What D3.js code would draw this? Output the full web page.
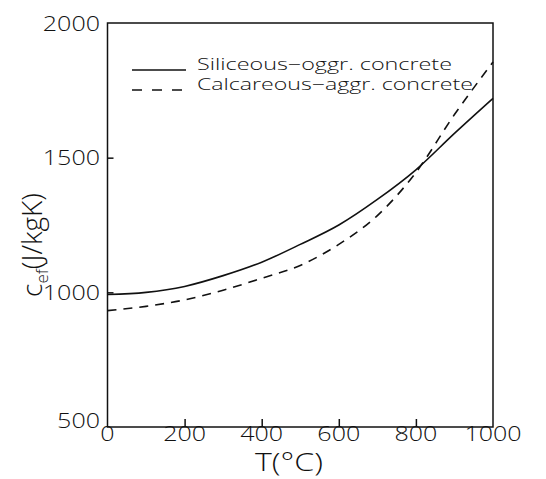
<!DOCTYPE html>
<html><head><meta charset="utf-8">
<script src="https://cdn.jsdelivr.net/npm/d3@7"></script>
<style>body{margin:0;background:#fff}svg{display:block}text{font-family:"Open Sans","DejaVu Sans",sans-serif;font-weight:300;fill:#111}</style>
</head><body><svg id="c" width="546" height="479"></svg>
<script>
const temps = [0, 100, 200, 300, 400, 500, 600, 700, 800, 900, 1000];
const siliceous = [992, 1000, 1022, 1062, 1112, 1178, 1250, 1345, 1455, 1590, 1720];
const calcareous = [932, 948, 972, 1008, 1052, 1100, 1178, 1285, 1445, 1660, 1855];
const xTicks = [0, 200, 400, 600, 800, 1000];
const yTicks = [500, 1000, 1500, 2000];
const seriesNames = ["Siliceous\u2212oggr. concrete", "Calcareous\u2212aggr. concrete"];

const svg = d3.select("#c");
const L = 107.5, R = 493, T = 23, B = 427;
const x = d3.scaleLinear().domain([0, 1000]).range([L, R]);
const y = d3.scaleLinear().domain([500, 2000]).range([B, T]);
const ink = "#111";

// frame
svg.append("rect").attr("x", L).attr("y", T).attr("width", R - L).attr("height", B - T)
  .attr("fill", "none").attr("stroke", ink).attr("stroke-width", 1.5);

// bottom axis (inward ticks)
const xa = svg.append("g").attr("transform", `translate(0,${B})`)
  .call(d3.axisTop(x).tickValues(xTicks.slice(1, -1)).tickSize(8).tickFormat(""));
xa.select(".domain").remove();
xa.selectAll("line").attr("stroke", ink).attr("stroke-width", 1.5);
svg.append("g").selectAll("text").data(xTicks).join("text")
  .attr("x", d => x(d)).attr("y", B + 14).attr("text-anchor", "middle")
  .attr("font-size", 21)
  .attr("textLength", d => String(d).length * 14.3).attr("lengthAdjust", "spacingAndGlyphs").text(d => d);

// left axis (inward ticks)
const ya = svg.append("g").attr("transform", `translate(${L},0)`)
  .call(d3.axisRight(y).tickValues(yTicks.slice(1, -1)).tickSize(6).tickFormat(""));
ya.select(".domain").remove();
ya.selectAll("line").attr("stroke", ink).attr("stroke-width", 1.5);
svg.append("g").selectAll("text").data(yTicks).join("text")
  .attr("x", 100).attr("y", d => y(d) - (d === 500 ? 7 : 0)).attr("text-anchor", "end")
  .attr("font-size", 21).attr("dy", "0.36em")
  .attr("textLength", d => String(d).length * 14.3).attr("lengthAdjust", "spacingAndGlyphs").text(d => d);

// curves
const line = d3.line().x((d, i) => x(temps[i])).y(d => y(d)).curve(d3.curveMonotoneX);
svg.append("path").datum(siliceous).attr("d", line).attr("fill", "none")
  .attr("stroke", ink).attr("stroke-width", 1.6);
svg.append("path").datum(calcareous).attr("d", line).attr("fill", "none")
  .attr("stroke", ink).attr("stroke-width", 1.6).attr("stroke-dasharray", "9,7");

// legend
const lg = [{n: seriesNames[0], dash: null, yy: 70, w: 255}, {n: seriesNames[1], dash: "10,10", yy: 90, w: 276}];
lg.forEach(d => {
  svg.append("line").attr("x1", 132).attr("x2", 186).attr("y1", d.yy).attr("y2", d.yy)
    .attr("stroke", ink).attr("stroke-width", 1.5).attr("stroke-dasharray", d.dash);
  svg.append("text").attr("x", 197).attr("y", d.yy).attr("font-size", 16)
    .attr("textLength", d.w).attr("lengthAdjust", "spacingAndGlyphs").text(d.n);
});

// x title
const xt = svg.append("text").attr("x", 289).attr("y", 471).attr("text-anchor", "middle")
  .attr("font-size", 25).attr("textLength", 68).attr("lengthAdjust", "spacingAndGlyphs");
xt.text("T(\u00B0C)");

// y title
const yt = svg.append("text").attr("transform", "translate(42,245) rotate(-90)")
  .attr("text-anchor", "middle").attr("font-size", 28);
yt.append("tspan").text("c");
yt.append("tspan").attr("font-size", 17).attr("dy", 6).text("ef");
yt.append("tspan").attr("dy", -6).text("(J/kgK)");
</script></body></html>
